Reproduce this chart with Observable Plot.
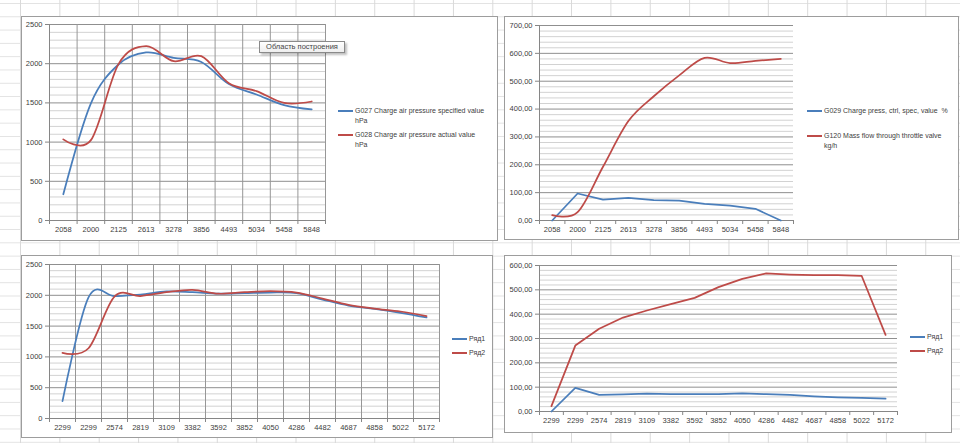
<!DOCTYPE html>
<html>
<head>
<meta charset="utf-8">
<script src="https://cdn.jsdelivr.net/npm/d3@7"></script>
<script src="https://cdn.jsdelivr.net/npm/@observablehq/plot@0.6"></script>
<style>
  html, body { margin: 0; padding: 0; }
  body {
    width: 960px; height: 443px; overflow: hidden; position: relative; background: #fff;
    background-image:
      linear-gradient(to right, #d9d9d9 1px, transparent 1px),
      linear-gradient(to bottom, #e2e2e2 1px, transparent 1px);
    background-size: 39.37px 13.3px;
    background-position: 20px 3px;
    font-family: "Liberation Sans", Arial, sans-serif;
  }
  .box { position: absolute; box-sizing: border-box; border: 1px solid #9d9d9d; background: #fff; }
  .box svg { display: block; }
  .legend { position: absolute; font-size: 7px; color: #404040; line-height: 10px; white-space: pre; }
  .legend .key { position: absolute; left: -17px; top: 4px; width: 15px; height: 0; border-top: 2px solid; }
  .tip {
    position: absolute; left: 259px; top: 41px; width: 86px; height: 12px; box-sizing: border-box;
    border: 1px solid #8a8a8a; background: linear-gradient(#ffffff, #eeeeee);
    box-shadow: 2px 2px 2px rgba(0,0,0,0.25);
    font-size: 7.5px; line-height: 10px; color: #444; text-align: center; white-space: nowrap;
  }
</style>
</head>
<body>
<script>
// Engine-speed categories (x axis labels)
const rpmTop = ["2058", "2000", "2125", "2613", "3278", "3856", "4493", "5034", "5458", "5848"];
const rpmBottom = ["2299", "2299", "2574", "2819", "3109", "3382", "3592", "3852", "4050", "4286", "4482", "4687", "4858", "5022", "5172"];

// Charge air pressure, hPa (first log)
const g027 = [335, 1495, 1990, 2143, 2075, 2022, 1740, 1607, 1471, 1416];
const g028 = [1035, 1025, 1995, 2225, 2032, 2096, 1752, 1650, 1500, 1518];

// Charge pressure control (%) and throttle mass flow (kg/h), first log
const g029 = [0, 97, 75, 81, 73, 71, 60, 53, 42, 0];
const g120 = [19, 30, 193, 357, 446, 521, 584, 565, 573, 580];

// Second log: pressure series
const row1p = [281, 1965, 1986, 2010, 2064, 2050, 2026, 2035, 2045, 2035, 1931, 1834, 1780, 1715, 1640];
const row2p = [1066, 1140, 1980, 1988, 2050, 2089, 2026, 2050, 2067, 2045, 1947, 1845, 1785, 1737, 1661];

// Second log: control / mass flow series
const row1m = [0, 97, 68, 70, 73, 71, 71, 71, 74, 71, 68, 62, 58, 56, 53];
const row2m = [22, 271, 340, 386, 415, 441, 467, 511, 545, 568, 563, 560, 560, 557, 315];

// Series names
const namesTopLeft = ["G027 Charge air pressure specified value\nhPa", "G028 Charge air pressure actual value\nhPa"];
const namesTopRight = ["G029 Charge press, ctrl, spec, value  %", "G120 Mass flow through throttle valve\nkg/h"];
const namesBottom = ["Ряд1", "Ряд2"];

const BLUE = "#4a7ebb", RED = "#be4b48";
const FONT = "\"Liberation Sans\", Arial, sans-serif";
const comma2 = d => d.toFixed(2).replace(".", ",");

const panels = [
  { box: [21, 16, 477, 225], margin: [7, 172, 20, 27], labels: rpmTop, yMax: 2500, major: 500, minor: 100, vgrid: true, fmt: d => String(d),
    series: [{ name: namesTopLeft[0], values: g027, color: BLUE, curve: "cardinal" },
             { name: namesTopLeft[1], values: g028, color: RED, curve: "cardinal" }],
    legend: { x: 355, ys: [111, 135] } },
  { box: [504, 16, 455, 224], margin: [8, 165, 19, 34], labels: rpmTop, yMax: 700, major: 100, minor: 20, vgrid: false, fmt: comma2,
    series: [{ name: namesTopRight[0], values: g029, color: BLUE, curve: "linear" },
             { name: namesTopRight[1], values: g120, color: RED, curve: "cardinal" }],
    legend: { x: 824, ys: [111, 136] } },
  { box: [21, 255, 472, 183], margin: [8, 53, 19, 27], labels: rpmBottom, yMax: 2500, major: 500, minor: 100, vgrid: true, fmt: d => String(d),
    series: [{ name: namesBottom[0], values: row1p, color: BLUE, curve: "cardinal" },
             { name: namesBottom[1], values: row2p, color: RED, curve: "cardinal" }],
    legend: { x: 469, ys: [339, 353] } },
  { box: [504, 255, 448, 178], margin: [9, 54, 21, 34], labels: rpmBottom, yMax: 600, major: 100, minor: 20, vgrid: false, fmt: comma2,
    series: [{ name: namesBottom[0], values: row1m, color: BLUE, curve: "linear" },
             { name: namesBottom[1], values: row2m, color: RED, curve: "linear" }],
    legend: { x: 927, ys: [337, 351] } }
];

function drawPanel(p) {
  const [left, top, w, h] = p.box;
  const [mt, mr, mb, ml] = p.margin;
  const n = p.labels.length;
  const idx = d3.range(n);
  const edges = d3.range(n + 1).map(i => i - 0.5);
  const majors = d3.range(0, p.yMax + 1, p.major);
  const minors = d3.range(0, p.yMax + 1, p.minor).filter(v => v % p.major !== 0);

  const marks = [
    Plot.ruleY(minors, { stroke: "#d2d2d2" }),
    Plot.ruleY(majors, { stroke: "#8f8f8f" })
  ];
  if (p.vgrid) marks.push(Plot.ruleX(edges, { stroke: "#979797" }));
  marks.push(
    Plot.ruleX([-0.5], { stroke: "#868686" }),
    Plot.ruleY([0], { stroke: "#868686" }),
    Plot.axisY(majors, { tickSize: 4, tickPadding: 3, tickFormat: p.fmt, stroke: "#868686", fill: "#404040", label: null }),
    Plot.axisX(edges, { tickSize: 4, tickFormat: () => "", stroke: "#868686", label: null }),
    Plot.axisX(idx, { tickSize: 0, tickPadding: 6, tickFormat: i => p.labels[i], fill: "#404040", label: null }),
    ...p.series.map(s => Plot.line(s.values.map((v, i) => ({ i, v })), {
      x: "i", y: "v", stroke: s.color, strokeWidth: 1.75, curve: s.curve, tension: 0
    }))
  );

  const chart = Plot.plot({
    width: w - 2, height: h - 2,
    marginTop: mt, marginRight: mr, marginBottom: mb, marginLeft: ml,
    x: { type: "linear", domain: [-0.5, n - 0.5], label: null },
    y: { type: "linear", domain: [0, p.yMax], label: null },
    style: { background: "white", fontSize: "7.5px", fontFamily: FONT, overflow: "visible" },
    marks
  });

  const box = document.createElement("div");
  box.className = "box";
  Object.assign(box.style, { left: left + "px", top: top + "px", width: w + "px", height: h + "px" });
  box.appendChild(chart);
  document.body.appendChild(box);

  p.series.forEach((s, k) => {
    const item = document.createElement("div");
    item.className = "legend";
    item.style.left = p.legend.x + "px";
    item.style.top = (p.legend.ys[k] - 5) + "px";
    const key = document.createElement("span");
    key.className = "key";
    key.style.borderTopColor = s.color;
    item.appendChild(key);
    item.appendChild(document.createTextNode(s.name));
    document.body.appendChild(item);
  });
}

panels.forEach(drawPanel);

const tip = document.createElement("div");
tip.className = "tip";
tip.textContent = "Область построения";
document.body.appendChild(tip);
</script>
</body>
</html>
